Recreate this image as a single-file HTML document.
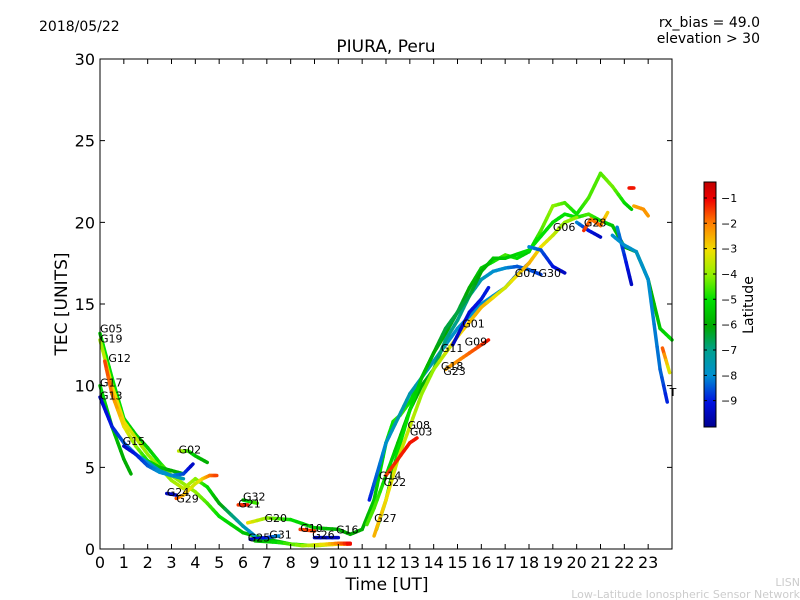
<!DOCTYPE html>
<html><head><meta charset="utf-8">
<style>
body{margin:0;background:#fff;}
svg{display:block;font-family:"DejaVu Sans","Liberation Sans",sans-serif;}
</style></head>
<body>
<svg id="chart" width="800" height="600" viewBox="0 0 800 600">
<defs>
<linearGradient id="cbg" x1="0" y1="1" x2="0" y2="0">
<stop offset="0" stop-color="#000090"/><stop offset="0.1" stop-color="#0010e0"/><stop offset="0.21" stop-color="#0090d0"/>
<stop offset="0.31" stop-color="#00a090"/><stop offset="0.41" stop-color="#00a800"/><stop offset="0.52" stop-color="#00e000"/>
<stop offset="0.62" stop-color="#90f000"/><stop offset="0.72" stop-color="#f0e000"/><stop offset="0.83" stop-color="#ff8000"/>
<stop offset="0.93" stop-color="#f00000"/><stop offset="1" stop-color="#c00000"/>
</linearGradient>
</defs>
<text x="39" y="31" font-size="14">2018/05/22</text>
<text x="760" y="27" font-size="14" text-anchor="end">rx_bias = 49.0</text>
<text x="760" y="43" font-size="14" text-anchor="end">elevation &gt; 30</text>
<text x="386" y="52" font-size="17" text-anchor="middle">PIURA, Peru</text>
<g id="marks"></g>
<g id="labels"></g>
<rect x="100" y="59" width="572" height="490" fill="none" stroke="#000" stroke-width="1"/>
<g id="axes"></g>
<text x="387" y="590" font-size="17" text-anchor="middle">Time [UT]</text>
<text x="67" y="304" font-size="17" text-anchor="middle" transform="rotate(-90 67 304)">TEC [UNITS]</text>
<rect x="704" y="182" width="12" height="245" fill="url(#cbg)" stroke="#000" stroke-width="1"/>
<g id="cbticks"></g>
<text x="753" y="305" font-size="14" text-anchor="middle" transform="rotate(-90 753 305)">Latitude</text>
<text x="800" y="586" font-size="11" fill="#ccc" text-anchor="end">LISN</text>
<text x="800" y="598" font-size="11" fill="#ccc" text-anchor="end">Low-Latitude Ionospheric Sensor Network</text>
</svg>
<script>
const xTicks=[0,1,2,3,4,5,6,7,8,9,10,11,12,13,14,15,16,17,18,19,20,21,22,23];
const yTicks=[0,5,10,15,20,25,30];
const cbTicks=[-1,-2,-3,-4,-5,-6,-7,-8,-9];
const trkNames=["a","b","c","d","e","f","g","h","i","j","k","l","m","n","o","p","q","r","s","t","u","v","w","x","y","z","aa","ab","ac","ad","ae"];
const trkT=[
[0,0.5,1,1.5,2,2.5,3,3.5,4,4.5,5,6,7,8,9,10,10.5],
[0,0.5,1,1.5,2,2.5,3,3.5,4,4.5,5,6,6.5],
[0.2,0.5,1,1.5,2,2.5,3,3.5],
[0,0.5,1,1.3],
[0,0.5,1,1.5,2,2.5,3,3.5],
[1,1.5,2,2.5,3,3.5,3.9],
[3.3,3.7,4,4.5],
[3.2,3.5,4,4.3,4.6,4.9],
[2.8,3.2],
[5.8,6.2],
[6,6.6],
[6.2,7,8,9,10,10.5,11,11.5,12,12.3,12.6,13,13.5,14,14.5,15,15.5,16,16.5,17,17.5,18,18.5,19,19.5,20,20.5,21,21.5,22,22.3],
[6.3,7,7.5],
[6.5,7.5,8.5,9.5,10,10.5],
[8.4,9],
[9,10],
[11.3,11.5,12,12.5,13,14,15,16,17,17.5,18],
[11.2,11.5,12,12.5,13,13.5,14,14.5,15,15.5,16,16.5,17,17.5,18,18.5],
[11.6,12,12.5,13,13.5,14,14.5,15,15.5,16,16.5,17,18,19,19.5,20,20.5,21,21.5,22,22.5,23,23.5,24],
[11.5,12,12.5,13,13.5,14,15,16,17,18,18.5,19,19.5,20],
[18,18.5,19,19.5],
[12,12.5,13,13.3],
[14.5,15,15.5,16,16.3],
[14.8,15.5,16,16.3],
[20,20.5,21],
[20.3,20.6,21,21.3],
[21.7,22,22.3],
[21.5,22,22.5,23,23.5,23.8],
[22.2,22.4],
[22.4,22.8,23],
[23.6,23.9]];
const trkV=[
[13.2,10.5,8,7,6.2,5.3,4.5,4,3.5,2.8,2,1,0.6,0.3,0.2,0.3,0.3],
[12.8,10,7.8,6.8,5.8,5,4.2,3.7,4.3,3.8,2.8,1.4,0.8],
[11.5,9.5,7.5,6.3,5.4,5,4.8,4.6],
[10,7.5,5.5,4.6],
[9.3,7.5,6.5,5.8,5.3,4.8,4.5,4.3],
[6.3,5.8,5.1,4.7,4.5,4.6,5.2],
[6,6,5.7,5.3],
[3.1,3.3,4,4.3,4.5,4.5],
[3.4,3.3],
[2.7,2.7],
[3,2.8],
[1.6,1.9,1.8,1.3,1.2,0.9,1.2,3,6.5,7.8,8.2,9,10.5,12,13.2,14.5,16,17.2,17.6,18,17.8,18.2,19.5,21,21.2,20.5,21.5,23,22.2,21.2,20.8],
[0.6,0.7,0.8],
[0.5,0.4,0.2,0.3,0.35,0.35],
[1.2,1.1],
[0.7,0.7],
[3,4,6.5,8,9.5,11.5,13.5,15,16,16.8,17.5],
[1.5,2.5,4.5,6.5,8.5,10,11,12.8,14,15.5,16.5,17,17.2,17.3,17.1,16.8],
[1.2,3,6,8.5,10.5,12,13.5,14.5,15.5,17,17.8,17.8,18.3,20,20.5,20.3,20.5,20.1,19.8,18.5,18.2,16.5,13.5,12.8],
[0.8,3,5.5,7.5,9.5,11,13,14.8,16,17.5,18.5,19.2,20,20.3],
[18.5,18.3,17.3,16.9],
[4.5,5.5,6.5,6.8],
[11,11.5,12,12.5,12.8],
[12.5,14.5,15.3,16],
[20,19.5,19.1],
[19.5,20.2,19.8,20.6],
[19.7,18,16.2],
[19.2,18.6,18.2,16.5,11,9],
[22.1,22.1],
[21,20.8,20.4],
[12.3,10.8]];
const trkL=[
[-5,-5,-5,-5.5,-5.5,-5,-4,-4,-4,-4.5,-5,-5.5,-6,-5.5,-4,-3,-1],
[-4,-3,-3,-3.5,-4,-4,-4,-3.5,-4,-5,-6,-7.5,-8],
[-1.5,-2,-3,-4,-5,-5.5,-6,-6],
[-5,-5.5,-6,-6],
[-9.3,-9,-8.5,-8,-8,-7.8,-7.8,-7.5],
[-9.5,-9,-8.5,-8,-8,-8.5,-9.5],
[-3.5,-4.5,-5.5,-6],
[-1.5,-2.5,-3.5,-3,-2,-1.5],
[-9.5,-9.5],
[-1.5,-1.2],
[-5.5,-4.5],
[-3,-4,-5,-5.5,-6,-6,-6,-5.5,-5,-5,-4.5,-5,-5.5,-6,-6,-6.5,-6,-5.5,-5,-4.5,-5,-5.5,-4.5,-4,-4.5,-5,-4.5,-4.5,-4.2,-5,-5.5],
[-9.5,-9,-8],
[-6,-5,-4,-3,-2,-1],
[-1.5,-1.5],
[-9.5,-9.5],
[-9,-8.5,-8,-7.5,-7.5,-7.5,-8,-8,-8,-8.5,-9],
[-4.5,-4.5,-5,-5.5,-6,-6,-6.5,-7,-7,-7,-7.5,-8,-8,-8.5,-8.5,-8.7],
[-5,-5,-5,-5,-5.5,-6,-6.5,-6.5,-6.5,-6,-5.5,-5.5,-5,-5,-5,-5,-4.5,-5,-5.5,-6,-6,-6,-5.5,-5],
[-2.5,-3,-3.5,-3.5,-4,-4,-3,-2.5,-3.5,-2.5,-3,-3.5,-4,-4],
[-8,-8.5,-9,-9.5],
[-1.5,-1.3,-1.2,-1.2],
[-2.5,-2.2,-1.8,-1.5,-1.2],
[-9.5,-9.2,-9,-9],
[-8,-9,-9.5],
[-1.3,-2,-1.8,-3],
[-8,-8.8,-9.5],
[-8,-8,-7.8,-8,-8.3,-9],
[-1.2,-1.2],
[-2.5,-2.2,-2.3],
[-1.5,-3.5]];
const labNames=["G05","G19","G12","G17","G13","G15","G02","G24","G29","G32","G21","G20","G25","G31","G10","G26","G16","G27","G14","G22","G08","G03","G11","G18","G23","G01","G09","G07","G30","G06","G28","T"];
const labT=[0,0,0.35,0,0,0.95,3.3,2.8,3.2,6,5.8,6.9,6.2,7.1,8.4,8.9,9.9,11.5,11.7,11.9,12.9,13,14.3,14.3,14.4,15.2,15.3,17.4,18.4,19,20.3,23.9];
const labV=[13.5,12.9,11.7,10.2,9.4,6.6,6.1,3.5,3.1,3.2,2.8,1.9,0.7,0.9,1.3,0.9,1.2,1.9,4.5,4.1,7.6,7.2,12.3,11.2,10.9,13.8,12.7,16.9,16.9,19.7,20.0,9.6];

const ns="http://www.w3.org/2000/svg";
const X0=100,X1=672,Y0=549,Y1=59;
function xs(t){return X0+t*(X1-X0)/24;}
function ys(v){return Y0-v*(Y0-Y1)/30;}
const cStops=[[0,[0,0,144]],[0.1,[0,16,224]],[0.21,[0,144,208]],[0.31,[0,160,144]],[0.41,[0,168,0]],[0.52,[0,224,0]],[0.62,[144,240,0]],[0.72,[240,224,0]],[0.83,[255,128,0]],[0.93,[240,0,0]],[1,[192,0,0]]];
const LMIN=-10.04,LMAX=-0.37;
function col(lat){let f=(lat-LMIN)/(LMAX-LMIN);f=Math.max(0,Math.min(1,f));
 for(let i=1;i<cStops.length;i++){if(f<=cStops[i][0]){const a=cStops[i-1],b=cStops[i];const u=(f-a[0])/(b[0]-a[0]);
 const c=a[1].map((v,k)=>Math.round(v+(b[1][k]-v)*u));return `rgb(${c[0]},${c[1]},${c[2]})`;}}return "rgb(192,0,0)";}
const marks=document.getElementById('marks');
trkT.forEach((ts,i)=>{
 const g=document.createElementNS(ns,'g');
 
 
 for(let j=0;j<ts.length-1;j++){
  const n=4;
  for(let k=0;k<n;k++){
   const u0=k/n,u1=(k+1)/n;
   const l=document.createElementNS(ns,'line');
   l.setAttribute('x1',xs(ts[j]+(ts[j+1]-ts[j])*u0));
   l.setAttribute('y1',ys(trkV[i][j]+(trkV[i][j+1]-trkV[i][j])*u0));
   l.setAttribute('x2',xs(ts[j]+(ts[j+1]-ts[j])*u1));
   l.setAttribute('y2',ys(trkV[i][j]+(trkV[i][j+1]-trkV[i][j])*u1));
   l.setAttribute('stroke',col(trkL[i][j]+(trkL[i][j+1]-trkL[i][j])*(u0+u1)/2));
   l.setAttribute('stroke-width','3.5');
   l.setAttribute('stroke-linecap','round');
   g.appendChild(l);
  }
 }
 marks.appendChild(g);
});
const labs=document.getElementById('labels');
labNames.forEach((nm,i)=>{
 const t=document.createElementNS(ns,'text');
 
 
 t.setAttribute('x',xs(labT[i]));t.setAttribute('y',ys(labV[i])+4);
 t.setAttribute('font-size','11');t.textContent=nm;labs.appendChild(t);
});
const ax=document.getElementById('axes');
xTicks.forEach(v=>{
 const x=xs(v);
 const a=document.createElementNS(ns,'path');
 
 
 a.setAttribute('d',`M${x},${Y0}v-5M${x},${Y1}v5`);a.setAttribute('stroke','#000');ax.appendChild(a);
 const t=document.createElementNS(ns,'text');
 
 
 t.setAttribute('x',x);t.setAttribute('y',568);t.setAttribute('font-size','16');t.setAttribute('text-anchor','middle');t.textContent=v;ax.appendChild(t);
});
yTicks.forEach(v=>{
 const y=ys(v);
 const a=document.createElementNS(ns,'path');
 
 
 a.setAttribute('d',`M${X0},${y}h5M${X1},${y}h-5`);a.setAttribute('stroke','#000');ax.appendChild(a);
 const t=document.createElementNS(ns,'text');
 
 
 t.setAttribute('x',95);t.setAttribute('y',y+6);t.setAttribute('font-size','16');t.setAttribute('text-anchor','end');t.textContent=v;ax.appendChild(t);
});
const cb=document.getElementById('cbticks');
cbTicks.forEach(v=>{
 const y=182+(LMAX-v)/(LMAX-LMIN)*245;
 const a=document.createElementNS(ns,'path');
 
 
 a.setAttribute('d',`M704,${y}h3M716,${y}h-3`);a.setAttribute('stroke','#000');cb.appendChild(a);
 const t=document.createElementNS(ns,'text');
 
 
 t.setAttribute('x',721);t.setAttribute('y',y+4);t.setAttribute('font-size','11');t.textContent='\u2212'+Math.abs(v);cb.appendChild(t);
});
</script>
</body></html>
